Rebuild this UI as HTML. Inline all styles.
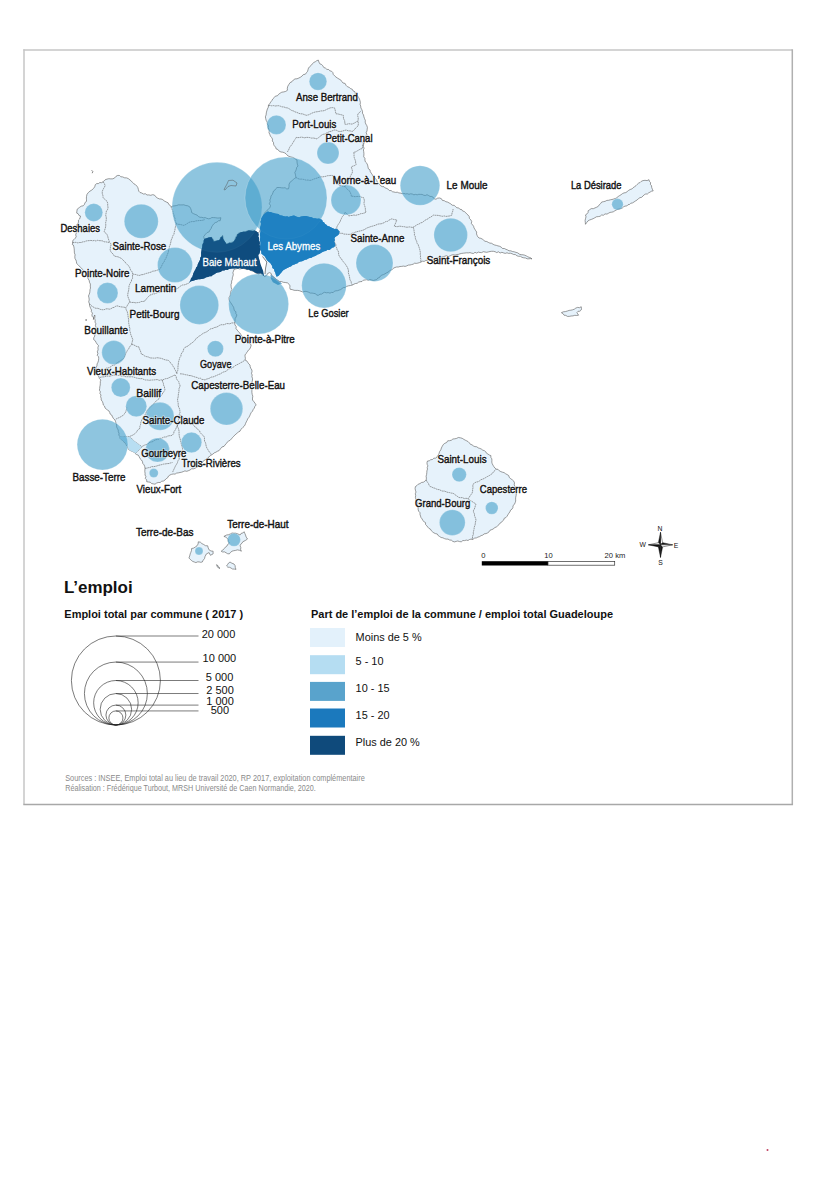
<!DOCTYPE html>
<html><head><meta charset="utf-8"><title>L'emploi</title>
<style>
html,body{margin:0;padding:0;background:#fff;width:816px;height:1200px;overflow:hidden}
svg{display:block}
text{font-family:"Liberation Sans",sans-serif}
</style></head><body>
<svg width="816" height="1200" viewBox="0 0 816 1200">
<g stroke-width="1.5" fill="none">
<line x1="23.3" y1="50" x2="792.3" y2="50" stroke="#c6c6c6"/>
<line x1="24" y1="49.3" x2="24" y2="804.4" stroke="#c6c6c6"/>
<line x1="792.3" y1="49.3" x2="792.3" y2="805.1" stroke="#b0b0b0"/>
<line x1="23.3" y1="804.4" x2="793" y2="804.4" stroke="#a8a8a8"/>
</g>

<g fill="#e6f2fb" stroke="#5a5a5a" stroke-width="0.6" stroke-linejoin="round">
<path d="M117.8,175.4 L119.6,175.5 L120.9,176.8 L122.7,176.9 L124.6,177.8 L126.7,177.9 L128.6,178.8 L130.0,180.0 L131.4,181.1 L132.6,182.5 L133.9,183.8 L135.5,184.7 L136.9,186.1 L137.9,187.7 L138.4,189.6 L138.8,191.2 L140.0,192.5 L141.8,193.0 L143.4,194.0 L145.5,193.8 L147.0,195.0 L148.8,194.9 L150.7,195.3 L152.6,194.7 L154.4,195.0 L155.7,196.7 L157.4,198.0 L159.3,198.9 L161.1,199.0 L162.8,199.7 L164.2,200.9 L166.1,201.9 L168.1,202.8 L168.7,204.4 L170.2,205.4 L171.1,206.8 L173.0,206.0 L175.0,205.8 L176.7,205.5 L178.5,204.8 L180.2,204.9 L182.0,204.9 L183.8,204.8 L185.8,205.5 L187.8,205.8 L189.7,206.8 L190.7,208.6 L191.4,210.6 L191.7,212.6 L193.4,213.6 L195.2,214.4 L197.1,215.1 L198.5,216.6 L200.1,217.3 L201.8,217.3 L203.4,217.8 L205.2,217.6 L206.8,218.3 L208.5,218.8 L210.2,218.5 L211.9,217.5 L213.6,217.6 L215.3,217.7 L217.2,218.0 L219.0,218.0 L220.9,217.7 L220.2,220.7 L218.4,220.8 L217.0,222.1 L215.3,222.6 L213.8,223.8 L212.7,225.3 L211.7,226.9 L211.1,228.6 L209.9,230.1 L209.2,231.8 L207.1,232.6 L205.5,234.2 L203.7,236.7 L204.3,239.1 L206.2,239.1 L208.0,238.2 L209.9,237.9 L211.7,237.3 L213.1,239.2 L213.5,241.6 L215.3,240.9 L217.2,241.1 L219.0,240.3 L220.2,238.6 L221.2,236.8 L222.7,235.4 L223.0,237.0 L223.3,238.7 L223.9,240.3 L225.0,242.3 L226.4,244.0 L228.2,243.3 L230.0,242.7 L231.9,242.2 L233.7,241.6 L234.7,240.3 L235.2,238.7 L235.8,237.1 L236.6,235.7 L237.4,234.2 L238.7,233.1 L240.2,232.5 L242.1,232.6 L243.5,231.8 L245.3,231.9 L246.8,231.0 L248.4,230.5 L250.5,230.4 L252.5,230.1 L254.6,230.5 L256.4,231.8 L258.2,233.0 L259.5,231.7 L260.0,230.1 L260.6,228.4 L261.3,226.9 L262.0,225.2 L261.5,223.3 L262.0,221.6 L262.8,219.9 L262.5,218.0 L263.3,216.5 L263.9,214.9 L264.4,213.3 L265.4,211.9 L266.7,210.8 L268.0,209.7 L270.0,207.3 L270.5,205.5 L269.3,203.7 L270.2,201.8 L269.8,200.0 L270.7,198.1 L271.0,196.0 L272.2,194.5 L272.9,192.8 L273.5,191.0 L274.9,190.1 L275.8,188.7 L277.0,187.5 L279.8,187.5 L281.5,187.8 L283.3,187.9 L285.1,187.7 L286.7,188.9 L288.5,188.8 L289.0,186.7 L289.0,184.5 L289.8,182.5 L291.0,181.5 L292.2,180.5 L293.4,179.4 L294.6,178.4 L296.0,177.5 L295.6,175.8 L295.3,174.1 L294.8,172.5 L295.7,170.9 L296.3,169.2 L296.7,167.4 L298.0,166.0 L297.3,164.1 L297.0,162.1 L297.0,160.0 L295.5,159.2 L294.2,158.1 L292.7,157.4 L291.0,157.0 L288.0,156.0 L286.0,153.8 L284.5,152.8 L282.8,152.2 L281.0,152.0 L279.2,151.2 L277.9,149.5 L276.0,148.8 L275.6,147.1 L274.3,145.8 L273.6,144.3 L273.5,142.5 L272.3,141.0 L272.5,139.1 L271.6,137.5 L270.4,136.1 L269.8,134.4 L269.0,132.7 L269.3,130.9 L268.7,129.2 L268.1,127.4 L268.3,125.6 L267.3,124.0 L267.2,122.1 L266.2,120.4 L265.7,118.6 L265.4,116.8 L266.1,114.9 L266.3,112.9 L266.8,110.9 L267.4,109.0 L268.3,107.2 L268.5,105.1 L269.8,103.5 L270.8,101.9 L271.9,100.5 L272.8,98.9 L274.2,97.6 L275.4,96.1 L277.4,95.8 L278.6,94.3 L280.1,93.2 L281.8,92.2 L283.8,91.9 L285.7,91.4 L287.4,90.3 L287.3,88.2 L287.8,86.2 L288.9,84.4 L290.1,82.6 L292.0,81.7 L293.3,80.0 L295.0,78.9 L297.0,78.8 L298.9,78.0 L300.6,77.1 L302.1,76.0 L303.3,74.6 L305.4,74.2 L306.5,72.6 L307.6,71.3 L308.0,69.7 L308.5,68.1 L309.5,66.8 L311.1,65.5 L312.3,63.8 L313.9,62.4 L315.4,61.7 L316.7,60.7 L318.3,60.1 L318.9,62.0 L319.8,63.8 L321.6,64.5 L322.8,65.8 L323.8,67.5 L325.6,68.2 L326.9,69.4 L328.7,69.5 L329.8,70.8 L331.5,71.2 L332.8,72.5 L333.3,74.5 L334.6,75.8 L336.0,77.1 L337.5,78.1 L339.1,79.1 L340.7,79.9 L341.8,81.5 L343.0,83.0 L345.1,83.4 L346.0,85.3 L347.4,86.7 L349.2,87.4 L350.6,88.6 L352.3,89.3 L353.3,91.1 L355.0,91.8 L355.4,93.6 L356.6,94.8 L357.7,96.2 L358.7,97.6 L359.5,99.1 L360.0,100.8 L360.4,102.6 L360.1,104.4 L360.7,106.1 L360.9,107.9 L361.8,109.6 L362.5,111.3 L362.5,113.3 L363.5,114.9 L363.9,116.8 L364.5,118.6 L365.3,120.3 L365.2,122.2 L365.8,124.0 L366.8,125.6 L367.4,127.4 L367.2,129.1 L367.0,130.9 L366.2,132.6 L366.8,134.4 L365.9,136.1 L365.8,138.0 L365.4,139.8 L364.3,141.4 L363.9,143.2 L363.5,144.9 L363.4,146.6 L364.1,148.3 L363.4,149.9 L363.7,151.6 L363.9,153.3 L363.9,155.0 L363.7,156.8 L364.9,158.3 L364.9,160.0 L365.4,161.9 L366.9,163.3 L367.6,165.1 L368.0,167.0 L368.4,168.8 L370.0,169.9 L370.3,171.8 L371.3,173.2 L372.3,174.7 L373.0,176.3 L374.5,177.4 L375.6,178.8 L376.7,180.2 L377.2,182.0 L378.5,183.2 L379.6,184.5 L380.7,185.8 L382.2,186.6 L384.0,186.7 L385.2,188.0 L386.9,188.5 L388.3,189.3 L389.4,190.6 L391.1,190.5 L392.4,191.7 L394.0,192.0 L395.6,192.4 L397.3,192.2 L398.8,192.9 L400.4,193.1 L402.1,193.7 L403.9,193.4 L405.5,193.9 L407.3,193.7 L409.0,194.3 L410.6,193.8 L412.3,194.0 L413.9,194.8 L415.5,194.4 L417.2,194.8 L418.8,194.3 L420.4,194.4 L422.1,194.4 L423.7,195.2 L425.3,195.5 L427.0,194.7 L428.6,195.5 L430.0,196.4 L431.8,196.5 L433.2,197.3 L434.3,198.9 L436.0,199.2 L437.7,198.1 L439.7,198.0 L441.4,198.7 L442.4,200.4 L444.3,200.7 L445.8,201.7 L447.6,202.1 L449.2,203.0 L450.8,203.9 L452.2,205.2 L454.2,205.4 L455.6,206.6 L456.9,207.8 L458.7,207.9 L459.9,209.3 L461.6,209.5 L462.6,211.0 L464.3,211.5 L465.6,212.6 L466.7,213.9 L468.0,215.0 L469.2,216.5 L469.4,218.4 L470.8,219.8 L471.7,221.4 L471.4,223.6 L472.7,225.0 L473.6,226.3 L474.0,227.9 L474.9,229.3 L475.7,230.7 L476.7,232.0 L476.5,233.9 L477.1,235.4 L477.8,236.8 L479.0,238.0 L480.8,238.3 L482.3,239.1 L483.7,240.2 L485.0,241.3 L486.8,241.5 L488.3,242.4 L489.9,243.1 L491.7,243.3 L493.1,244.3 L494.7,245.0 L496.4,245.4 L498.0,245.9 L499.7,246.3 L501.2,247.1 L502.5,248.5 L504.4,248.5 L505.9,249.3 L507.5,249.9 L509.0,250.8 L510.8,250.8 L512.4,251.5 L514.2,251.8 L516.0,252.4 L517.8,252.9 L519.3,254.1 L521.1,254.7 L523.0,254.8 L524.7,255.2 L526.3,255.9 L527.8,256.8 L529.4,257.4 L531.0,258.0 L532.0,259.0 L530.4,258.6 L528.8,258.8 L527.1,258.8 L525.6,258.0 L523.8,257.8 L522.0,257.4 L520.5,256.3 L518.6,256.3 L516.9,255.8 L515.4,254.6 L513.6,254.5 L512.0,253.7 L510.3,253.2 L508.6,253.4 L507.0,252.8 L505.2,253.4 L503.5,252.9 L501.9,252.3 L500.1,253.0 L498.5,251.8 L496.7,252.6 L495.1,251.7 L493.4,251.3 L491.7,251.3 L490.0,251.5 L488.4,251.9 L486.7,252.3 L485.0,252.0 L483.3,251.7 L481.7,252.6 L480.0,252.5 L478.3,252.1 L476.7,253.1 L475.0,252.3 L473.4,253.5 L471.7,253.2 L470.0,252.6 L468.3,252.9 L466.6,252.8 L465.0,253.0 L463.3,253.2 L461.7,253.4 L460.0,253.8 L458.4,254.4 L456.7,254.5 L455.1,255.1 L453.3,254.7 L451.6,255.1 L450.1,255.9 L448.4,256.5 L446.6,255.7 L444.9,256.2 L443.3,256.8 L441.7,257.1 L440.0,257.5 L438.3,257.4 L436.8,258.2 L435.3,258.6 L433.7,259.1 L432.1,259.5 L430.6,260.1 L428.8,259.7 L427.3,260.3 L425.7,260.5 L424.2,261.4 L422.5,261.2 L421.0,261.9 L419.5,262.6 L417.9,263.1 L416.3,263.4 L414.6,263.2 L413.2,264.2 L411.6,264.6 L410.0,265.0 L408.3,265.1 L406.7,265.9 L405.1,266.4 L403.3,266.1 L401.7,266.4 L400.0,266.5 L398.3,267.0 L396.6,267.0 L395.0,267.5 L393.4,268.2 L392.3,269.6 L390.7,270.2 L389.3,271.1 L388.0,272.2 L386.5,272.9 L385.0,273.8 L383.5,274.6 L381.9,275.1 L380.4,276.0 L379.4,277.6 L377.8,278.1 L376.7,279.6 L375.0,280.0 L373.3,280.5 L371.7,280.0 L370.0,279.5 L368.3,280.4 L366.7,279.7 L365.0,280.0 L363.3,280.2 L362.0,281.5 L360.2,281.7 L358.6,282.1 L357.2,283.3 L355.5,283.5 L354.0,284.1 L352.5,285.0 L350.6,285.5 L348.6,285.8 L346.7,286.4 L345.0,287.5 L343.3,287.6 L342.0,288.6 L340.6,289.6 L339.1,290.1 L337.6,290.7 L336.0,290.8 L334.4,291.2 L333.2,292.6 L331.4,292.4 L330.0,293.2 L328.2,292.6 L326.3,292.8 L324.5,292.3 L323.0,293.0 L321.7,294.1 L320.0,294.2 L318.6,295.2 L316.8,295.2 L315.5,293.7 L313.8,293.4 L312.1,293.1 L310.4,293.1 L308.8,292.3 L306.9,291.6 L305.0,291.3 L302.9,292.0 L301.0,291.3 L299.3,290.7 L297.6,290.4 L295.9,290.4 L294.1,290.3 L292.2,289.6 L290.2,289.3 L289.8,287.7 L290.0,285.9 L289.2,284.4 L287.5,282.9 L285.3,282.5 L283.3,282.3 L281.4,281.5 L279.4,281.5 L277.7,280.2 L275.9,279.1 L274.5,277.5 L273.1,276.4 L271.7,275.4 L271.2,273.5 L269.6,272.6 L267.6,273.5 L266.6,275.6 L264.7,276.6 L263.4,275.4 L261.8,274.5 L260.5,273.3 L258.6,273.8 L256.6,273.3 L255.0,272.6 L253.6,271.4 L251.9,271.0 L250.4,269.8 L248.7,269.4 L246.9,269.6 L245.4,269.1 L243.8,268.4 L241.9,268.5 L239.9,269.0 L238.0,268.4 L236.0,268.8 L234.0,269.4 L233.5,271.1 L232.9,272.7 L233.3,274.5 L232.9,276.2 L232.3,277.8 L232.3,279.5 L231.6,281.1 L231.6,282.9 L231.0,284.5 L231.1,286.2 L231.3,287.8 L232.0,289.4 L231.1,290.9 L230.5,292.5 L230.4,294.3 L230.0,295.9 L229.1,297.4 L229.0,299.2 L229.5,301.0 L230.6,302.5 L231.6,304.0 L232.6,305.6 L233.6,307.2 L234.0,309.0 L234.4,310.6 L235.9,311.7 L235.9,313.6 L236.9,314.9 L236.2,316.9 L235.1,318.7 L235.0,320.8 L234.9,322.8 L234.9,324.8 L236.2,326.6 L236.0,328.6 L237.2,330.1 L238.3,331.6 L239.8,332.9 L240.8,334.5 L241.8,335.9 L243.0,337.1 L243.9,338.6 L245.0,340.0 L246.6,340.5 L247.5,341.9 L248.8,343.0 L250.1,343.8 L251.2,345.0 L250.7,346.9 L250.0,348.8 L248.7,349.8 L247.8,351.1 L247.0,352.5 L245.9,353.6 L245.0,355.0 L245.1,356.7 L245.4,358.3 L245.0,360.0 L246.7,360.8 L247.7,362.3 L248.7,363.8 L250.0,365.0 L250.2,366.8 L250.9,368.5 L251.9,370.0 L252.0,371.7 L251.5,373.4 L252.2,375.0 L251.9,376.7 L252.5,378.3 L252.5,380.0 L252.1,381.8 L251.7,383.5 L252.5,385.4 L252.6,387.2 L251.9,388.9 L251.9,390.7 L251.9,392.5 L252.2,394.4 L252.8,396.2 L252.5,398.1 L252.5,400.0 L253.8,401.6 L255.1,403.3 L256.2,405.0 L254.9,406.3 L254.3,408.1 L253.2,409.5 L252.5,411.2 L251.2,412.6 L250.4,414.2 L249.7,415.9 L248.8,417.5 L247.7,418.9 L247.1,420.4 L246.3,421.9 L245.6,423.4 L245.0,425.0 L244.1,426.3 L242.9,427.4 L241.9,428.6 L240.6,429.7 L240.0,431.2 L238.5,432.0 L237.2,433.0 L236.0,434.1 L234.8,435.1 L233.7,436.4 L232.5,437.5 L231.4,438.9 L230.2,440.2 L228.6,441.1 L227.2,442.2 L226.2,443.7 L225.0,445.0 L224.0,446.4 L222.2,446.8 L221.3,448.1 L220.0,449.2 L219.1,450.6 L217.5,451.2 L215.9,452.2 L214.2,452.9 L212.9,454.1 L211.2,455.0 L210.1,456.1 L208.6,456.9 L207.9,458.5 L206.2,459.0 L205.0,460.0 L203.4,460.9 L202.3,462.3 L201.3,463.8 L199.8,464.8 L198.8,466.2 L197.0,466.9 L195.4,468.1 L193.6,468.8 L191.6,468.8 L190.0,470.0 L188.4,470.7 L186.8,471.3 L184.9,470.9 L183.3,471.6 L181.7,472.2 L180.0,472.5 L178.3,472.9 L176.6,473.1 L175.1,474.1 L173.3,474.0 L171.6,474.3 L170.0,475.0 L168.5,476.0 L167.7,477.7 L166.2,478.7 L165.0,480.0 L163.5,481.0 L161.6,481.3 L160.2,482.5 L158.2,482.5 L156.5,483.1 L155.0,484.2 L153.3,483.9 L151.6,483.5 L150.2,482.2 L148.4,482.0 L146.7,481.7 L146.7,479.9 L145.3,478.5 L145.9,476.6 L145.0,475.0 L145.1,473.3 L144.8,471.6 L144.9,470.0 L145.0,468.3 L144.7,466.5 L144.1,464.9 L142.8,463.5 L142.5,461.7 L141.5,460.0 L140.0,458.6 L139.2,456.7 L138.2,455.1 L136.4,454.5 L135.0,453.3 L133.8,452.0 L132.2,451.4 L130.7,450.7 L129.2,450.0 L128.1,448.5 L127.5,446.6 L126.3,445.2 L125.8,443.3 L124.1,442.4 L123.1,440.6 L121.3,439.7 L120.0,438.3 L119.9,436.6 L118.8,435.1 L119.0,433.3 L118.3,431.7 L118.2,430.0 L117.3,428.4 L116.6,426.8 L116.7,425.0 L116.0,423.4 L115.6,421.7 L115.0,420.0 L113.5,418.6 L112.5,416.9 L111.7,415.0 L110.2,414.1 L109.7,412.4 L108.9,410.9 L107.5,410.0 L106.2,409.0 L105.0,407.9 L104.5,406.1 L103.3,405.0 L103.0,403.2 L102.4,401.5 L101.2,400.0 L101.2,398.3 L100.6,396.7 L101.0,395.0 L99.9,393.5 L100.4,391.8 L99.4,390.2 L99.7,388.5 L99.8,386.8 L100.2,385.1 L100.3,383.4 L100.3,381.6 L100.9,380.0 L99.4,378.5 L98.8,376.4 L97.3,375.0 L96.9,373.2 L96.7,371.3 L96.0,369.6 L96.0,367.7 L96.9,365.9 L97.1,363.9 L98.0,362.2 L98.5,360.3 L98.7,358.5 L98.6,356.8 L97.2,355.3 L97.9,353.5 L97.3,351.8 L98.1,349.8 L97.9,347.6 L98.5,345.6 L97.2,344.2 L96.1,342.5 L95.2,340.7 L93.6,339.5 L93.8,337.7 L94.7,336.1 L94.9,334.3 L94.6,332.4 L95.8,330.9 L95.1,328.9 L96.0,327.3 L95.4,325.6 L95.9,323.8 L95.0,322.1 L95.2,320.3 L94.7,318.6 L94.9,316.8 L94.8,315.0 L93.7,317.1 L93.4,319.5 L93.6,317.8 L92.2,316.4 L91.9,314.9 L92.5,313.1 L91.3,311.7 L91.5,310.0 L90.7,308.5 L90.1,307.0 L89.5,305.5 L89.5,303.8 L88.7,301.9 L89.2,299.9 L89.0,297.9 L88.5,296.0 L89.1,294.5 L89.7,292.9 L89.9,291.3 L90.0,289.6 L90.5,288.1 L90.3,286.1 L90.4,284.1 L89.5,282.3 L89.2,280.5 L88.2,278.9 L87.5,277.3 L87.5,275.4 L86.7,273.6 L85.1,272.4 L83.7,271.1 L82.6,269.5 L81.5,268.2 L80.2,267.0 L78.9,265.8 L77.7,264.6 L76.6,263.2 L76.4,261.5 L75.9,260.0 L75.0,258.5 L74.8,256.8 L75.1,254.8 L74.4,252.9 L74.3,250.9 L74.2,248.9 L73.9,246.9 L73.3,245.0 L72.3,244.5 L72.8,242.6 L72.7,240.6 L74.1,239.5 L75.3,238.2 L76.2,236.7 L75.7,234.8 L76.4,232.7 L75.7,230.8 L75.6,228.8 L76.9,227.0 L76.7,224.9 L77.8,223.6 L78.5,222.1 L78.4,220.2 L79.6,219.0 L80.6,216.1 L79.0,215.5 L78.2,213.8 L76.7,213.1 L76.9,211.1 L77.2,209.2 L79.6,207.3 L81.2,206.2 L83.2,205.8 L84.5,204.3 L85.0,202.5 L86.5,201.4 L86.5,199.8 L86.4,198.1 L86.5,196.5 L87.0,194.3 L88.4,192.5 L90.0,191.1 L91.8,190.1 L93.3,188.6 L94.7,186.9 L95.3,184.7 L96.7,183.6 L98.4,183.6 L99.8,182.5 L101.7,182.7 L103.1,181.8 L105.1,179.8 L107.0,179.1 L108.9,178.7 L110.9,178.9 L112.9,178.8 L114.7,177.9 L116.0,176.3 Z"/>
<path d="M585.5,214.9 L587.0,213.9 L588.0,212.6 L588.2,210.7 L589.7,209.7 L591.2,208.6 L593.3,208.7 L595.0,207.9 L596.7,207.2 L598.3,206.3 L599.3,204.7 L600.7,203.5 L601.7,202.0 L603.4,201.7 L605.2,201.3 L606.8,200.4 L608.5,200.3 L610.3,199.8 L612.0,199.5 L613.7,199.0 L615.3,198.5 L616.8,197.7 L618.2,196.5 L619.6,195.6 L621.1,194.7 L622.5,193.6 L624.0,192.9 L625.8,192.6 L627.2,191.6 L628.6,190.4 L630.1,189.5 L631.9,189.0 L633.1,187.7 L634.6,186.7 L636.0,185.7 L637.2,184.4 L638.5,183.2 L640.1,182.5 L641.3,181.3 L643.0,180.6 L645.0,180.3 L647.1,180.6 L649.0,179.7 L649.4,181.3 L650.6,182.6 L650.4,184.4 L651.5,185.7 L651.7,187.5 L652.4,189.3 L653.2,190.9 L651.5,191.2 L650.1,192.1 L648.7,192.8 L647.4,194.0 L645.7,194.0 L644.2,194.8 L643.0,196.0 L641.7,197.3 L639.9,197.7 L638.4,198.7 L637.1,200.0 L635.6,200.9 L634.1,201.9 L632.6,202.9 L630.9,203.2 L629.7,204.4 L628.0,204.7 L626.8,206.0 L625.0,206.1 L623.6,206.8 L622.3,208.0 L620.8,208.6 L619.2,209.1 L617.6,209.3 L616.1,210.1 L614.7,210.9 L613.3,211.8 L611.7,212.2 L610.0,212.4 L608.6,213.2 L607.0,214.1 L605.0,213.9 L603.5,215.2 L601.6,215.0 L600.1,216.3 L598.3,216.6 L596.4,216.8 L594.8,217.8 L593.1,218.7 L591.4,219.4 L589.6,220.0 L588.0,220.9 L586.7,222.5 L585.5,224.3 L585.3,222.4 L585.1,220.5 L585.5,218.7 L586.0,216.8 Z"/>
<path d="M561.4,312.7 L563.3,311.8 L565.4,311.6 L567.4,311.0 L569.1,310.4 L570.9,310.2 L572.6,309.8 L574.3,309.2 L575.8,308.1 L577.6,307.4 L579.6,307.7 L581.2,306.7 L581.5,308.4 L581.2,310.0 L579.9,311.2 L578.0,311.3 L576.9,312.7 L578.6,315.2 L576.7,315.5 L574.8,315.3 L573.0,315.9 L571.1,316.0 L569.2,316.4 L567.4,316.4 L565.8,315.4 L564.0,315.2 L563.0,313.6 Z"/>
<path d="M458.3,437.5 L460.3,437.8 L462.2,438.3 L463.9,439.4 L465.3,440.2 L466.8,440.9 L468.2,441.7 L469.4,442.9 L470.4,444.3 L472.0,444.8 L473.4,445.9 L474.9,446.6 L476.8,446.8 L478.2,447.9 L479.8,448.4 L481.4,449.1 L482.8,450.2 L484.4,450.7 L485.7,451.7 L486.6,453.3 L488.0,454.1 L489.3,455.0 L490.9,455.6 L490.8,457.3 L491.8,458.8 L491.9,460.4 L491.8,462.1 L492.2,463.7 L493.0,465.2 L493.9,466.7 L494.9,468.0 L496.3,469.1 L498.1,469.4 L499.3,470.8 L500.8,471.6 L502.4,472.2 L504.1,472.6 L505.5,473.7 L507.0,474.5 L508.7,475.5 L509.4,477.6 L510.8,478.8 L512.4,479.9 L513.8,481.2 L514.5,482.9 L514.2,484.9 L515.1,486.6 L515.2,488.5 L515.6,490.3 L516.5,492.0 L516.3,493.8 L516.1,495.6 L515.7,497.4 L515.6,499.2 L515.7,501.1 L515.1,502.8 L514.4,504.4 L513.0,505.6 L512.9,507.6 L512.0,509.1 L510.5,510.2 L509.9,511.9 L508.8,513.3 L507.9,514.8 L507.0,516.3 L505.9,517.6 L504.2,518.3 L503.7,520.1 L502.3,521.1 L501.3,522.5 L499.8,523.3 L498.9,524.8 L497.6,525.9 L496.3,527.0 L494.6,527.6 L493.4,529.0 L491.8,529.6 L490.1,530.2 L489.0,531.9 L487.6,532.9 L486.0,533.6 L484.1,533.9 L482.8,535.1 L481.1,535.6 L479.6,536.6 L477.9,537.1 L476.4,537.9 L474.6,538.1 L473.1,539.2 L471.2,539.1 L469.5,539.5 L468.0,540.5 L466.3,540.1 L464.6,540.6 L462.9,540.5 L461.3,541.8 L459.6,541.6 L457.8,541.0 L456.2,541.4 L454.5,541.9 L452.8,541.4 L451.4,540.2 L449.6,540.0 L448.0,539.1 L446.1,539.1 L444.4,538.6 L442.9,537.8 L441.1,537.5 L439.6,536.5 L438.2,535.6 L437.3,534.0 L435.5,533.6 L433.9,532.9 L432.6,531.9 L431.3,530.7 L430.4,529.1 L428.9,528.4 L427.8,527.1 L426.8,525.8 L425.6,524.6 L425.5,522.6 L424.0,521.7 L422.8,520.5 L422.1,518.9 L421.0,517.6 L420.5,516.0 L420.0,514.5 L420.0,512.7 L418.8,511.4 L418.2,509.9 L418.1,508.2 L417.6,506.4 L416.9,504.7 L417.3,502.7 L415.9,501.1 L415.9,499.2 L415.4,497.4 L415.7,495.6 L415.3,493.8 L416.0,492.0 L415.4,490.2 L415.1,488.4 L415.4,486.6 L416.9,485.6 L418.2,484.2 L420.0,483.6 L421.4,482.5 L423.4,482.2 L424.9,481.2 L426.2,479.9 L426.4,478.1 L426.1,476.2 L426.6,474.5 L426.8,472.7 L426.9,470.9 L427.5,469.1 L427.2,467.5 L427.9,465.9 L427.1,464.2 L427.0,462.6 L427.5,461.0 L429.3,460.8 L430.7,459.7 L432.5,459.5 L433.8,458.2 L435.6,458.1 L437.0,457.0 L438.0,455.3 L439.0,453.6 L439.6,451.6 L440.8,449.9 L441.4,448.0 L442.3,446.2 L443.3,444.5 L444.8,443.3 L446.7,442.5 L447.7,440.8 L449.6,440.7 L451.4,440.2 L452.9,439.0 L454.8,438.8 L456.6,438.4 Z"/>
<path d="M188.9,558.0 L189.7,556.0 L190.2,553.9 L190.9,552.2 L191.5,550.4 L191.6,548.5 L193.6,548.1 L195.3,547.0 L197.0,545.8 L198.1,544.0 L198.3,541.8 L200.4,542.2 L201.9,543.6 L203.7,544.5 L205.5,545.7 L207.7,545.8 L208.2,547.9 L209.1,549.9 L211.0,551.0 L213.1,551.2 L213.1,553.9 L210.4,555.3 L209.1,552.6 L206.4,553.9 L205.0,556.6 L204.5,558.6 L203.2,560.2 L202.3,562.0 L200.7,562.3 L199.1,561.9 L197.5,561.9 L195.9,562.6 L194.3,562.0 L192.7,561.4 L191.4,560.4 L190.2,559.3 Z"/>
<path d="M223.9,536.4 L226.6,535.0 L228.5,534.7 L230.3,534.0 L232.0,533.0 L233.8,533.2 L235.6,533.2 L237.4,533.7 L240.1,535.0 L241.1,533.4 L242.9,533.0 L244.1,531.7 L244.8,533.3 L245.5,535.0 L246.2,537.1 L247.5,539.0 L245.5,540.4 L242.8,541.8 L242.0,543.2 L240.7,544.3 L240.1,545.8 L240.8,547.5 L240.6,549.5 L241.4,551.2 L239.5,550.3 L237.4,549.9 L235.6,550.4 L233.8,550.7 L232.0,551.2 L230.5,552.4 L229.3,553.9 L227.6,553.7 L226.1,552.8 L224.6,551.9 L222.7,552.0 L221.2,551.2 L222.8,550.1 L224.1,548.7 L225.3,547.2 L226.9,546.1 L227.8,544.3 L229.3,543.1 L228.2,541.3 L228.0,539.1 L226.8,537.9 L225.5,537.0 Z"/>
<path d="M226.6,566.0 L227.6,564.5 L228.5,563.1 L230.0,562.0 L231.9,563.2 L234.0,564.0 L235.1,565.6 L235.3,567.6 L236.0,569.4 L234.3,569.1 L232.5,569.0 L231.0,568.0 L229.5,567.3 L227.8,567.2 Z"/>
<path d="M216.5,564.7 L217.9,565.6 L218.5,567.3 L220.0,568.0 L219.0,568.5 L217.4,566.8 Z"/>
</g>
<g fill="none" stroke="#5e5e5e" stroke-width="0.6" stroke-linejoin="round" stroke-dasharray="1.8 0.5">
<path d="M103.1,181.8 L104.4,183.6 L105.1,185.7 L104.4,187.2 L103.5,188.6 L102.8,190.1 L102.2,191.6 L102.3,193.6 L102.9,195.5 L103.1,197.5 L104.3,199.0 L105.7,200.1 L107.1,201.4 L107.7,203.3 L107.7,205.3 L108.0,207.3 L107.7,209.3 L106.4,211.1 L106.1,213.1 L105.7,215.1 L106.2,217.1 L106.3,219.0 L106.1,221.0 L105.6,222.9 L105.8,224.9 L105.6,226.9 L105.1,228.8 L104.1,231.8 L105.8,233.1 L107.1,234.7 L107.8,236.6 L108.3,238.7 L109.0,240.6 L109.4,242.2 L110.6,243.4 L111.1,245.0 L110.4,246.6 L110.4,248.3 L110.1,249.9 L110.8,251.6 L111.8,253.0 L113.3,254.2 L114.0,255.8 L115.9,256.5 L118.0,256.8 L119.9,257.7 L121.8,258.7 L123.2,260.3 L124.8,261.7 L125.9,263.3 L127.2,264.6 L128.7,265.9 L129.7,267.5 L130.2,269.1 L130.9,270.6 L132.1,271.8 L132.6,273.4 L132.6,275.0 L132.5,276.7 L132.6,278.3 L131.6,279.6 L131.4,281.4 L130.4,282.7 L129.7,284.2 L129.0,286.1 L128.9,288.1 L128.7,290.1 L128.2,292.0 L127.8,294.0 L127.7,296.0 L128.4,298.0 L129.2,299.9 L129.7,301.9 L128.7,303.3 L127.7,304.8 L126.9,306.3 L125.8,307.7 L126.2,309.8 L127.2,311.6 L127.7,313.6 L128.0,315.6 L128.2,317.6 L128.7,319.5 L128.6,321.3 L128.7,323.1 L129.1,324.8 L129.3,326.7 L129.9,328.5 L129.7,330.4 L130.3,332.2 L130.6,334.1 L131.4,335.9 L132.0,337.7 L132.8,339.5 L132.4,341.1 L132.0,342.8 L131.6,344.4"/>
<path d="M72.3,242.5 L74.1,242.6 L75.9,242.3 L77.8,242.9 L79.6,242.5 L81.3,242.5 L82.9,241.8 L84.5,241.7 L86.1,241.0 L87.7,240.7 L89.4,240.6 L91.0,240.4 L92.7,240.8 L94.3,240.4 L95.9,241.0 L97.6,240.3 L99.2,240.6 L100.9,240.7 L102.5,240.9 L104.1,241.8 L105.8,241.8 L107.4,242.2 L109.0,242.5"/>
<path d="M132.6,273.4 L133.8,274.4 L135.8,274.5 L137.7,275.2 L139.7,275.4 L141.3,274.7 L143.0,274.6 L144.6,274.0 L146.2,273.4 L147.9,273.1 L149.5,272.5 L151.1,272.1 L152.7,271.2 L154.4,271.0 L156.1,270.6 L157.7,270.0 L159.3,269.5 L160.5,268.1 L161.4,266.5 L162.2,264.8 L163.0,263.1 L164.2,261.7 L164.6,260.1 L165.7,258.8 L166.3,257.3 L166.9,255.8 L167.4,254.3 L168.1,252.8 L168.5,251.2 L168.7,249.6 L169.3,248.1 L169.4,246.5 L170.1,245.0 L170.5,243.4 L170.9,241.8 L171.1,240.1 L171.9,238.7 L172.4,237.1 L173.0,235.5 L174.0,234.2 L174.2,232.2 L174.9,230.3 L175.1,228.4 L175.5,226.4 L176.0,224.4 L175.9,222.8 L175.3,221.3 L174.9,219.7 L175.0,218.1 L174.1,216.6 L174.0,215.0 L173.2,213.4 L172.9,211.7 L172.4,210.0 L171.6,208.5 L171.1,206.8"/>
<path d="M176.0,223.4 L177.9,224.3 L179.9,224.4 L181.9,224.9 L183.8,225.4 L185.5,224.6 L187.2,223.6 L188.7,222.5 L190.5,221.9 L192.2,221.5 L194.1,221.6 L195.8,220.9 L197.7,220.7 L199.5,220.5 L201.4,220.5 L203.2,220.1 L205.0,219.5"/>
<path d="M89.5,303.8 L90.9,305.4 L92.6,306.6 L94.4,307.7 L95.9,308.3 L97.6,308.3 L99.2,308.8 L100.7,309.5 L102.3,309.7 L104.1,309.7 L105.8,308.9 L107.5,308.8 L109.4,309.2 L111.1,308.7 L112.4,307.7 L114.1,307.4 L115.5,306.4 L117.0,305.8 L118.7,306.3 L120.5,306.8 L122.3,307.0 L124.1,307.2 L125.8,307.7"/>
<path d="M129.7,301.9 L131.6,302.5 L133.7,302.4 L135.6,302.8 L137.5,302.6 L139.4,302.4 L141.2,301.5 L143.2,301.5 L145.0,300.9 L146.1,299.3 L147.3,297.8 L148.7,296.4 L150.0,295.0 L151.6,294.7 L153.1,293.8 L154.8,293.8 L156.3,293.1 L157.9,292.5 L159.5,292.2 L161.1,291.7 L162.7,291.3 L164.4,291.2 L166.0,290.8 L167.5,290.0 L169.2,289.6 L170.9,290.0 L172.6,289.5 L174.3,289.6 L176.0,289.1 L177.8,288.3 L179.3,287.1 L180.8,285.9 L182.5,285.0 L184.2,284.9 L185.8,284.4 L187.3,283.7 L188.9,283.1"/>
<path d="M97.3,372.0 L98.9,371.6 L100.5,371.2 L101.8,369.9 L103.5,370.0 L105.0,369.4 L106.3,368.2 L108.0,368.0 L109.6,367.4 L111.2,366.6 L112.4,365.4 L114.3,365.1 L115.6,364.0 L117.0,362.9 L118.4,361.9 L120.0,361.1 L121.4,360.1 L122.9,359.1 L124.2,357.9 L124.7,356.3 L125.4,354.8 L125.8,353.2 L126.7,351.8 L127.5,350.2 L128.7,348.8 L129.4,347.2 L130.5,345.8 L131.6,344.4"/>
<path d="M131.6,344.4 L133.5,344.8 L135.2,345.7 L137.0,346.6 L138.9,346.9 L139.4,348.8 L140.2,350.5 L140.9,352.3 L141.4,354.2 L143.2,354.7 L144.7,356.0 L146.5,356.6 L148.4,357.0 L150.0,357.9 L151.7,358.0 L153.4,358.1 L155.1,358.2 L156.8,357.7 L158.5,357.9 L160.2,358.2 L161.8,358.5 L163.4,359.2 L165.0,359.8 L166.6,360.1 L168.3,360.3 L169.8,361.7 L170.8,363.3 L172.2,364.7 L173.2,366.5 L174.2,367.8 L174.7,369.4 L175.7,370.8 L176.3,372.3 L176.9,373.8"/>
<path d="M176.9,373.8 L176.9,372.1 L177.7,370.6 L178.0,369.0 L177.9,367.3 L178.1,365.6 L178.3,364.0 L178.5,362.3 L178.9,360.7 L179.4,359.1 L179.8,357.5 L180.9,356.3 L181.0,354.6 L181.7,353.1 L182.8,351.8 L183.4,350.4 L183.8,348.8 L185.0,347.4 L186.6,346.6 L188.4,345.9 L189.5,344.5 L191.1,343.6 L192.5,342.5 L193.9,341.4 L195.1,340.1 L196.0,338.5 L197.6,337.6 L198.8,336.2 L200.4,335.5 L201.8,334.3 L203.2,333.3 L204.9,332.6 L206.6,331.8 L208.1,330.9 L209.4,329.6 L211.0,328.7 L212.9,328.4 L214.5,327.5 L216.3,327.2 L218.0,326.4 L219.5,325.4 L221.2,324.7 L223.0,324.8 L224.7,324.5 L226.3,323.6 L228.1,323.6 L229.9,323.8 L231.5,323.0 L233.3,322.9 L235.0,322.7"/>
<path d="M100.0,377.5 L101.6,377.0 L103.3,376.9 L105.0,376.7 L106.6,376.1 L108.3,376.1 L110.1,376.2 L111.7,375.6 L113.3,375.3 L115.0,375.0 L116.6,375.4 L118.3,375.4 L120.0,375.4 L121.6,376.1 L123.4,375.8 L125.0,376.6 L126.6,376.8 L128.3,376.7 L130.0,376.9 L131.7,376.7 L133.4,377.0 L135.0,377.5 L136.7,378.1 L138.5,378.4 L140.3,378.7 L142.2,378.6 L143.9,379.5 L145.6,380.0 L147.5,380.0 L149.2,380.3 L150.8,380.1 L152.5,380.0 L154.2,379.9 L155.8,379.7 L157.5,379.6 L159.2,380.4 L160.8,379.9 L162.5,380.0 L164.0,379.3 L165.6,378.7 L167.3,378.5 L168.9,377.8 L170.4,377.0 L172.0,376.5 L173.4,375.6 L175.0,375.0"/>
<path d="M162.5,380.0 L162.6,381.8 L163.4,383.3 L163.5,385.1 L164.4,386.6 L164.6,388.3 L165.0,390.0 L164.1,391.5 L162.8,392.8 L162.1,394.5 L160.8,395.8 L159.8,397.2 L158.9,398.8 L157.5,400.0 L156.1,401.1 L154.8,402.3 L153.9,403.9 L152.4,404.9 L151.2,406.2 L150.0,407.5 L148.7,408.7 L147.5,410.0 L146.5,411.5 L146.0,413.2 L145.1,414.7 L144.1,416.2 L143.0,417.6 L142.2,419.2 L141.4,420.8 L140.8,422.5 L140.6,424.4 L139.9,426.3 L140.0,428.3 L138.6,429.2 L137.5,430.4 L136.7,432.0 L135.4,433.1 L134.2,434.2 L132.6,435.2 L130.9,435.9 L129.2,436.7 L127.4,436.4 L125.5,436.7 L123.7,436.8 L121.8,437.0 L120.0,436.7"/>
<path d="M129.2,436.7 L130.5,438.1 L132.3,439.0 L133.3,440.7 L135.0,441.7 L136.3,442.7 L137.7,443.6 L139.0,444.8 L140.5,445.5 L141.7,446.7 L140.7,448.2 L139.4,449.4 L138.3,450.8 L136.9,451.9 L135.8,453.3"/>
<path d="M115.8,419.2 L117.5,418.3 L119.2,417.6 L120.9,416.7 L122.5,415.8 L123.7,414.5 L125.0,413.3 L125.8,411.7 L126.4,409.6 L126.7,407.5"/>
<path d="M175.0,375.0 L176.2,376.5 L176.4,378.5 L177.3,380.1 L178.7,381.5 L179.1,383.4 L180.0,385.0 L179.9,386.7 L179.1,388.3 L178.9,390.0 L179.0,391.7 L178.5,393.3 L178.3,395.0 L178.2,396.7 L177.8,398.3 L177.5,400.0 L177.9,401.8 L178.2,403.6 L178.2,405.4 L178.7,407.2 L179.6,408.9 L179.8,410.7 L180.0,412.5 L179.3,414.2 L179.1,416.0 L178.8,417.8 L178.5,419.6 L178.1,421.4 L178.1,423.3 L177.5,425.0 L176.7,426.7 L176.0,428.4 L175.2,430.1 L174.0,431.6 L173.7,433.5 L172.5,435.0 L171.0,435.7 L169.3,435.7 L167.6,436.1 L166.2,437.0 L164.5,437.0 L162.9,437.5 L161.4,438.4 L159.7,438.3 L158.3,439.3 L156.6,439.6 L155.0,440.0 L153.7,441.0 L152.2,441.8 L150.5,442.1 L149.0,442.7 L147.8,444.0 L146.2,444.6 L144.6,445.1 L143.1,445.9 L141.7,446.7"/>
<path d="M180.0,415.0 L181.5,415.9 L182.9,416.8 L184.0,418.2 L185.5,419.0 L186.7,420.3 L188.3,421.0 L189.2,422.6 L190.7,423.4 L192.3,424.2 L193.8,425.1 L194.7,426.7 L196.2,427.5 L197.1,429.0 L198.5,429.9 L199.7,431.0 L200.2,432.7 L201.4,434.0 L202.7,435.0 L203.8,436.2 L204.5,437.8 L204.4,439.6 L204.6,441.3 L205.6,442.9 L205.9,444.6 L206.2,446.2 L206.8,447.9 L207.7,449.3 L208.5,450.8 L209.5,452.1 L210.6,453.4 L211.2,455.0"/>
<path d="M177.5,425.0 L177.5,426.7 L178.4,428.3 L178.8,429.9 L179.1,431.6 L179.0,433.4 L179.2,435.1 L179.4,436.7 L180.0,438.4 L180.4,440.0 L180.7,441.7 L181.2,443.3 L181.5,445.0 L182.1,446.6 L182.5,448.3 L182.5,450.0 L181.6,451.5 L181.0,453.0 L180.3,454.5 L179.8,456.2 L179.3,457.8 L179.0,459.5 L177.9,460.8 L177.5,462.5 L176.6,464.2 L175.6,465.7 L174.8,467.4 L174.0,469.1 L173.2,470.8 L172.5,472.5"/>
<path d="M145.0,468.3 L146.7,468.2 L148.3,467.7 L150.0,467.5 L151.6,466.6 L153.3,466.7 L155.0,466.4 L156.7,466.0 L158.3,465.4 L160.0,465.0 L161.8,464.6 L163.5,464.1 L165.3,463.9 L167.2,463.6 L169.0,463.5 L170.7,462.9 L172.5,462.5"/>
<path d="M180.0,373.8 L181.8,373.9 L183.6,374.2 L185.4,374.7 L187.2,374.9 L188.9,375.5 L190.8,375.6 L192.5,376.2 L194.1,376.7 L195.6,377.2 L197.2,377.5 L198.7,378.4 L200.4,378.2 L201.8,379.4 L203.5,379.5 L205.0,380.0 L206.5,379.1 L208.1,378.7 L209.7,378.1 L211.1,377.1 L212.9,377.0 L214.4,376.4 L216.0,375.7 L217.5,375.0 L219.0,374.3 L220.6,373.8 L222.0,372.7 L223.5,372.0 L225.2,371.6 L226.6,370.8 L227.9,369.5 L229.4,368.7 L231.1,368.5 L232.5,367.5 L234.0,366.8 L235.2,365.6 L236.7,364.9 L238.1,364.2 L239.6,363.4 L241.0,362.5 L242.5,361.9 L245.0,360.0"/>
<path d="M296.0,177.5 L297.8,178.5 L299.8,179.2 L301.5,179.1 L303.1,179.3 L304.7,179.7 L306.3,180.2 L308.0,180.0 L309.6,180.4 L311.3,180.2 L312.8,179.5 L314.3,178.9 L315.9,178.4 L317.5,177.9 L319.0,177.3 L320.6,176.8 L322.4,176.9 L324.1,176.6 L325.9,176.3 L327.6,175.7 L329.4,175.6 L331.1,175.4 L332.9,175.5 L333.5,177.1 L334.3,178.5 L335.6,179.6 L336.2,181.2 L337.6,182.3 L337.9,184.0 L339.0,185.3 L341.1,185.4 L343.0,186.4 L345.1,186.6 L346.2,187.9 L347.3,189.3 L348.6,190.4 L350.0,191.5 L350.5,193.1 L351.2,194.7 L351.3,196.4 L353.1,196.2 L355.0,196.7 L356.8,196.5 L358.6,196.4 L360.3,196.4 L361.8,197.4 L363.5,197.6 L364.1,199.3 L364.4,201.0 L364.0,202.8 L364.2,204.5 L364.8,206.2 L365.3,208.2 L365.4,210.3 L366.0,212.3 L364.3,213.0 L362.6,213.5 L360.8,213.6 L359.2,214.5 L357.4,214.8 L355.7,215.4 L353.9,215.0 L352.2,215.5 L350.5,215.5 L348.8,216.0 L347.8,214.6 L346.4,213.4 L345.1,212.3 L344.5,214.0 L343.5,215.5 L342.2,216.7 L341.5,218.4 L340.7,220.0 L340.0,221.8 L339.0,223.3 L338.0,224.8 L337.1,226.4 L336.6,228.2 L338.0,229.9 L339.0,231.9"/>
<path d="M363.5,140.0 L362.9,141.7 L363.3,143.5 L362.6,145.1 L362.5,146.9 L362.3,148.6 L360.4,149.0 L358.8,150.0 L357.2,150.9 L355.6,151.9 L353.7,152.3 L354.1,154.1 L354.0,156.0 L354.3,157.8 L355.0,159.6 L355.6,161.2 L355.6,162.9 L356.2,164.5 L354.7,165.5 L352.9,166.1 L351.3,167.0 L351.8,168.6 L352.3,170.2 L352.5,171.9 L351.9,173.5 L350.9,175.1 L350.3,176.7 L349.8,178.4 L349.0,180.0 L348.3,181.8 L347.4,183.5 L345.8,184.8 L345.1,186.6"/>
<path d="M339.0,233.1 L340.6,233.3 L342.3,233.3 L343.9,234.1 L345.5,234.1 L347.2,234.3 L348.8,234.4 L350.5,234.3 L351.9,233.1 L353.7,233.2 L355.1,232.2 L356.7,231.8 L358.4,231.3 L360.0,231.0 L361.6,230.6 L363.2,230.1 L364.7,229.4 L366.1,228.5 L367.6,227.7 L369.2,227.2 L370.7,226.6 L372.3,226.2 L374.0,225.7 L375.8,225.1 L377.4,224.3 L379.2,223.9 L381.1,223.8 L382.8,223.2 L384.5,222.5 L385.8,221.5 L387.6,221.3 L388.9,220.2 L390.4,219.5 L391.9,218.8 L393.5,219.4 L395.1,219.7 L396.8,220.0 L396.2,221.6 L395.6,223.1 L394.9,224.6 L394.3,226.2 L396.0,226.6 L397.6,226.6 L399.3,226.2 L401.0,226.3 L402.7,226.6 L404.3,226.7 L406.0,227.2 L407.7,227.2 L409.4,226.9 L411.0,227.2 L412.7,227.4 L414.3,226.6 L415.8,225.6 L417.3,224.6 L419.1,224.0 L420.5,222.9 L422.3,222.5 L423.7,221.3 L425.0,220.3 L426.5,219.5 L428.0,218.8 L429.2,217.7 L430.9,217.1 L432.1,216.0 L433.5,215.1 L435.3,215.3 L437.0,215.3 L438.8,215.5 L440.5,215.9 L442.3,216.3 L444.1,215.9 L445.8,216.4 L447.9,216.2 L449.9,215.9 L451.9,215.1 L452.0,213.0 L452.8,211.1 L453.1,209.0"/>
<path d="M268.3,105.7 L270.0,105.4 L271.7,105.8 L273.5,105.6 L275.2,106.0 L276.9,105.8 L278.6,105.7 L280.4,106.2 L282.0,106.9 L283.9,106.9 L285.6,107.7 L287.4,107.9 L288.9,108.6 L290.3,109.5 L291.7,110.5 L293.3,110.9 L295.0,111.9 L296.9,112.4 L298.7,113.3 L300.6,113.8 L302.7,113.9 L304.5,114.7 L306.5,115.3 L308.5,114.8 L310.3,114.0 L312.0,113.1 L313.9,112.4 L315.6,111.9 L317.4,111.7 L319.2,111.4 L320.9,110.9 L322.7,110.9 L324.7,110.5 L326.4,109.5 L328.3,108.7 L330.1,107.9 L332.3,107.6 L334.5,107.9 L335.1,109.8 L335.5,111.8 L335.9,113.8 L337.8,113.9 L339.6,114.4 L341.5,114.8 L343.3,115.3 L343.4,117.1 L343.6,118.9 L344.6,120.5 L344.8,122.3 L344.8,124.1 L346.6,124.4 L348.5,123.7 L350.3,123.9 L352.1,124.1 L353.6,123.4 L355.1,122.7 L356.4,121.7 L358.0,121.2 L358.2,119.3 L358.2,117.5 L357.6,115.7 L358.0,113.8 L359.6,112.5 L360.9,110.9"/>
<path d="M287.4,152.0 L288.2,150.6 L289.0,149.1 L289.5,147.6 L290.4,146.2 L291.7,144.9 L292.5,143.4 L293.5,141.9 L294.2,140.3 L295.5,139.0 L296.2,137.4 L297.9,137.6 L299.6,137.5 L301.3,137.1 L302.9,137.4 L304.6,137.8 L306.3,137.4 L308.0,137.4 L309.8,137.6 L311.5,138.1 L313.3,138.0 L315.1,138.4 L316.8,138.8 L318.4,137.9 L319.7,136.6 L321.2,135.4 L322.7,134.4 L324.5,134.1 L326.1,133.2 L327.7,132.5 L329.3,131.6 L331.2,131.3 L332.8,130.6 L334.5,130.0 L336.5,130.3 L338.3,131.3 L340.4,131.5 L342.4,131.1 L344.3,130.5 L346.2,130.0 L348.1,130.8 L350.2,130.9 L352.1,131.5 L353.5,130.7 L354.6,129.4 L355.6,128.1 L356.8,127.1 L358.0,126.0 L358.4,123.6 L358.0,121.2"/>
<path d="M413.0,227.2 L413.7,228.7 L414.0,230.3 L414.1,231.9 L414.6,233.4 L414.3,235.1 L415.3,236.6 L415.3,238.2 L415.9,239.8 L416.7,241.3 L416.9,243.1 L418.1,244.4 L418.6,246.1 L419.2,247.7 L419.7,249.3 L420.0,250.9 L420.4,252.6 L420.2,254.2 L420.6,255.9 L420.3,257.6 L420.9,259.2 L420.8,260.8 L420.8,262.5"/>
<path d="M334.0,240.0 L334.2,241.7 L335.1,243.2 L335.9,244.7 L335.8,246.5 L336.8,247.9 L337.1,249.6 L338.2,251.0 L338.6,252.6 L338.6,254.4 L339.2,256.0 L340.0,257.5 L341.4,258.7 L342.2,260.3 L343.3,261.7 L344.5,263.1 L345.6,264.5 L346.5,266.0 L347.5,267.5 L348.1,269.2 L348.5,271.0 L348.3,272.9 L349.0,274.6 L349.4,276.4 L349.7,278.2 L350.0,280.0 L351.1,281.5 L351.4,283.5 L352.5,285.0"/>
<path d="M426.2,479.9 L426.9,481.7 L428.4,483.1 L429.0,485.1 L430.2,486.6 L431.8,487.0 L433.2,487.9 L434.9,488.2 L436.3,489.0 L437.9,489.5 L439.6,489.7 L441.0,490.6 L442.7,491.1 L444.5,491.1 L446.2,491.8 L447.9,492.4 L449.6,492.6 L451.3,493.1 L453.1,493.3 L454.5,494.2 L455.8,495.3 L457.3,496.2 L458.5,497.4 L460.4,497.7 L462.3,497.6 L464.2,498.5 L466.1,498.3 L468.0,498.7 L469.1,497.4 L470.0,496.0 L471.0,494.6 L472.0,493.3 L472.6,491.5 L472.6,489.6 L473.0,487.7 L472.8,485.7 L473.3,483.9 L474.7,482.9 L476.2,482.0 L478.0,481.8 L479.5,480.9 L480.9,479.7 L482.5,479.2 L484.1,478.5 L485.8,477.5 L487.5,476.5 L489.3,475.6 L490.9,474.5 L492.5,473.4 L493.5,471.7 L495.0,470.5 L496.3,469.1"/>
<path d="M468.0,498.7 L469.3,499.6 L470.6,500.6 L472.0,501.4 L473.3,502.4 L474.7,503.2 L476.0,504.1 L475.3,505.8 L474.9,507.6 L474.2,509.3 L473.3,510.9 L473.7,512.5 L474.5,513.9 L474.5,515.6 L475.1,517.2 L475.7,518.7 L476.0,520.3 L475.4,522.0 L475.3,523.8 L474.9,525.5 L474.2,527.2 L474.1,528.9 L473.7,530.7 L473.3,532.4 L473.4,534.4 L472.5,536.2 L472.5,538.1 L472.0,540.0"/>
</g>
<path d="M120,436.7 L129.2,436.7 L135,441.7 L141.7,446.7 L135.8,453.3 L129.2,450 L125.8,443.3 L120,438.3 Z" fill="#b8def2" stroke="none"/>
<path d="M270.5,274.5 L274.6,277.8 L278,280.6 L282,283.5 L278,285 L272.9,282.3 L270.8,278.6 Z" fill="#4f96c4"/>
<path d="M188.9,283.1 L189.8,281.6 L190.6,280.0 L191.0,278.3 L192.3,277.0 L192.8,275.3 L193.3,273.6 L194.0,272.0 L194.8,270.4 L195.7,269.0 L196.1,267.4 L197.4,266.2 L197.7,264.5 L198.5,262.8 L199.3,261.2 L200.2,259.6 L200.1,257.9 L201.1,256.4 L201.2,254.7 L201.1,252.7 L201.5,250.8 L201.7,248.8 L202.2,247.2 L202.3,245.5 L202.6,243.9 L203.6,242.5 L203.6,240.7 L204.3,239.1 L205.7,238.6 L207.2,238.0 L208.6,237.6 L210.1,237.3 L211.7,237.3 L212.2,238.8 L213.3,240.0 L213.5,241.6 L215.3,241.2 L217.1,240.4 L219.0,240.3 L220.2,239.3 L220.5,237.6 L222.0,236.8 L222.7,235.4 L222.7,237.1 L223.1,238.8 L223.9,240.3 L225.2,242.1 L226.4,244.0 L228.0,243.8 L229.2,242.7 L230.9,243.0 L232.4,242.5 L233.7,241.6 L234.6,240.2 L235.6,238.8 L236.0,237.2 L237.1,235.9 L237.4,234.2 L238.9,233.5 L240.3,232.6 L241.9,232.1 L243.5,231.8 L245.2,231.7 L246.9,231.3 L248.4,230.5 L249.9,230.4 L251.5,230.7 L253.1,230.9 L254.6,230.5 L256.5,231.6 L258.2,233.0 L258.7,234.7 L258.2,236.5 L259.1,238.1 L258.8,239.9 L259.5,241.6 L259.9,243.2 L259.4,244.9 L260.6,246.5 L260.4,248.1 L260.5,249.8 L259.9,251.5 L259.6,253.2 L258.5,254.7 L258.5,256.4 L258.7,258.1 L259.5,259.6 L260.1,261.0 L260.3,262.6 L261.2,264.0 L261.6,265.4 L261.8,267.0 L262.4,268.5 L263.3,269.8 L263.4,271.4 L263.4,273.3 L263.8,275.0 L264.7,276.6 L263.4,275.4 L262.2,274.1 L260.5,273.3 L258.6,273.5 L256.6,273.3 L255.1,272.4 L253.6,271.4 L252.0,270.6 L250.2,270.5 L248.7,269.4 L247.0,269.5 L245.4,268.7 L243.8,268.4 L241.9,268.7 L239.9,268.1 L238.0,268.4 L236.0,268.3 L234.1,268.5 L232.1,268.4 L230.5,268.8 L228.9,269.0 L227.5,270.0 L225.7,269.7 L224.2,270.4 L222.4,270.6 L220.9,271.7 L219.2,272.3 L217.4,272.4 L215.8,273.2 L214.4,274.2 L212.8,275.1 L211.5,276.3 L209.6,276.3 L208.0,277.0 L206.2,277.3 L204.6,278.2 L203.0,278.8 L201.4,279.0 L199.7,279.2 L198.1,279.2 L196.7,279.7 L195.3,280.1 L193.9,280.6 L192.4,281.1 L190.9,281.2 Z" fill="#0f4c7e"/>
<path d="M260.2,238.1 L260.2,236.5 L259.9,234.9 L260.1,233.3 L260.5,231.8 L260.4,230.2 L259.9,228.6 L260.2,227.0 L260.8,225.3 L261.0,223.5 L260.4,221.7 L261.2,220.0 L261.3,218.2 L262.3,216.7 L263.2,215.0 L264.6,213.8 L266.1,212.5 L267.9,211.6 L269.3,212.1 L270.9,212.0 L272.3,212.7 L273.8,212.9 L275.2,213.6 L276.7,213.8 L278.5,214.1 L279.9,215.3 L281.7,215.5 L283.4,216.0 L285.2,216.5 L287.2,216.3 L288.9,217.1 L290.2,216.2 L291.9,216.1 L293.3,215.5 L294.9,215.7 L296.2,216.6 L297.7,217.1 L299.4,217.2 L301.0,216.6 L302.6,216.2 L304.3,216.0 L306.2,216.0 L308.0,216.4 L309.8,217.1 L311.7,217.2 L313.4,218.3 L315.3,218.2 L317.1,218.8 L319.0,218.6 L320.8,219.3 L322.2,220.1 L322.7,221.8 L324.2,222.6 L325.0,224.0 L326.4,224.8 L327.5,225.9 L329.4,226.5 L331.2,227.5 L333.0,228.2 L334.4,229.0 L336.0,228.7 L337.4,229.3 L338.3,230.6 L339.6,231.5 L339.1,233.2 L338.5,234.8 L336.8,235.9 L335.2,237.0 L334.4,238.4 L334.9,240.1 L334.1,241.4 L334.7,242.8 L335.2,244.2 L335.2,245.8 L333.9,247.2 L332.0,247.7 L330.8,249.1 L329.3,250.1 L327.4,249.8 L325.9,250.9 L324.2,251.3 L322.5,252.0 L320.9,253.0 L319.3,254.1 L317.5,254.6 L316.1,255.5 L314.5,256.2 L312.9,256.7 L311.5,257.7 L309.8,257.9 L308.2,258.5 L306.8,259.5 L305.1,259.7 L303.6,260.5 L302.1,261.2 L300.4,261.5 L298.8,262.1 L297.6,263.3 L295.9,263.7 L294.4,264.5 L292.6,265.1 L291.2,266.3 L289.4,266.9 L287.8,267.8 L286.3,268.4 L284.9,269.2 L283.5,270.1 L282.3,271.2 L281.2,272.7 L280.0,274.1 L278.9,275.6 L276.7,276.7 L275.9,274.9 L275.4,273.0 L274.5,271.2 L274.1,269.3 L272.4,268.1 L272.2,266.1 L271.2,264.5 L270.3,263.0 L268.9,261.9 L267.5,260.8 L266.6,259.4 L265.7,257.9 L264.9,256.5 L263.7,255.5 L262.5,254.5 L261.3,253.5 L261.4,251.9 L261.0,250.5 L260.2,249.1 L259.7,247.5 L260.1,246.0 L260.4,244.4 L260.5,242.8 L260.2,241.2 L259.8,239.7 Z" fill="#1c7fc1"/>
<g fill="rgb(60,155,200)" fill-opacity="0.58" stroke="#ffffff" stroke-opacity="0.25" stroke-width="0.8">
<circle cx="217" cy="207.3" r="45"/>
<circle cx="286" cy="198" r="41"/>
<circle cx="258.6" cy="304" r="30"/>
<circle cx="324" cy="285.6" r="22.3"/>
<circle cx="199.3" cy="305" r="19.4"/>
<circle cx="175" cy="265" r="17.5"/>
<circle cx="346" cy="200" r="15"/>
<circle cx="420" cy="185.5" r="19.8"/>
<circle cx="450.7" cy="235" r="16.8"/>
<circle cx="374.5" cy="263" r="18.5"/>
<circle cx="318" cy="81.5" r="8.8"/>
<circle cx="276.4" cy="124.9" r="9.6"/>
<circle cx="328" cy="153" r="11"/>
<circle cx="102.5" cy="444.6" r="25.4"/>
<circle cx="113.75" cy="352.5" r="12"/>
<circle cx="120.75" cy="387.5" r="9.5"/>
<circle cx="107.5" cy="293" r="10.5"/>
<circle cx="93.75" cy="212.5" r="9"/>
<circle cx="141.25" cy="221.25" r="17"/>
<circle cx="160" cy="416.25" r="14"/>
<circle cx="136.25" cy="406.25" r="10.5"/>
<circle cx="157.5" cy="450" r="12"/>
<circle cx="191.5" cy="442.5" r="10.25"/>
<circle cx="153.75" cy="473" r="4.5"/>
<circle cx="215.4" cy="348.75" r="8.1"/>
<circle cx="226.5" cy="408.75" r="16.3"/>
<circle cx="459.2" cy="474.6" r="7.2"/>
<circle cx="491.8" cy="508" r="6.3"/>
<circle cx="452.3" cy="522.6" r="12.9"/>
<circle cx="617.5" cy="204.3" r="5.7"/>
<circle cx="199" cy="551" r="4"/>
<circle cx="234" cy="539.8" r="6.5"/>
</g>
<path d="M91.6,170.2 L92.8,171.5 L92.2,173.2" fill="none" stroke="#555" stroke-width="0.7"/>
<circle cx="86.1" cy="320" r="0.7" fill="#444"/>
<path d="M188.9,283.1 L189.8,281.6 L190.6,280.0 L191.0,278.3 L192.3,277.0 L192.8,275.3 L193.3,273.6 L194.0,272.0 L194.8,270.4 L195.7,269.0 L196.1,267.4 L197.4,266.2 L197.7,264.5 L198.5,262.8 L199.3,261.2 L200.2,259.6 L200.1,257.9 L201.1,256.4 L201.2,254.7 L201.1,252.7 L201.5,250.8 L201.7,248.8 L202.2,247.2 L202.3,245.5 L202.6,243.9 L203.6,242.5 L203.6,240.7 L204.3,239.1 L205.7,238.6 L207.2,238.0 L208.6,237.6 L210.1,237.3 L211.7,237.3 L212.2,238.8 L213.3,240.0 L213.5,241.6 L215.3,241.2 L217.1,240.4 L219.0,240.3 L220.2,239.3 L220.5,237.6 L222.0,236.8 L222.7,235.4 L222.7,237.1 L223.1,238.8 L223.9,240.3 L225.2,242.1 L226.4,244.0 L228.0,243.8 L229.2,242.7 L230.9,243.0 L232.4,242.5 L233.7,241.6 L234.6,240.2 L235.6,238.8 L236.0,237.2 L237.1,235.9 L237.4,234.2 L238.9,233.5 L240.3,232.6 L241.9,232.1 L243.5,231.8 L245.2,231.7 L246.9,231.3 L248.4,230.5 L249.9,230.4 L251.5,230.7 L253.1,230.9 L254.6,230.5 L256.5,231.6 L258.2,233.0 L258.7,234.7 L258.2,236.5 L259.1,238.1 L258.8,239.9 L259.5,241.6 L259.9,243.2 L259.4,244.9 L260.6,246.5 L260.4,248.1 L260.5,249.8 L259.9,251.5 L259.6,253.2 L258.5,254.7 L258.5,256.4 L258.7,258.1 L259.5,259.6 L260.1,261.0 L260.3,262.6 L261.2,264.0 L261.6,265.4 L261.8,267.0 L262.4,268.5 L263.3,269.8 L263.4,271.4 L263.4,273.3 L263.8,275.0 L264.7,276.6 L263.4,275.4 L262.2,274.1 L260.5,273.3 L258.6,273.5 L256.6,273.3 L255.1,272.4 L253.6,271.4 L252.0,270.6 L250.2,270.5 L248.7,269.4 L247.0,269.5 L245.4,268.7 L243.8,268.4 L241.9,268.7 L239.9,268.1 L238.0,268.4 L236.0,268.3 L234.1,268.5 L232.1,268.4 L230.5,268.8 L228.9,269.0 L227.5,270.0 L225.7,269.7 L224.2,270.4 L222.4,270.6 L220.9,271.7 L219.2,272.3 L217.4,272.4 L215.8,273.2 L214.4,274.2 L212.8,275.1 L211.5,276.3 L209.6,276.3 L208.0,277.0 L206.2,277.3 L204.6,278.2 L203.0,278.8 L201.4,279.0 L199.7,279.2 L198.1,279.2 L196.7,279.7 L195.3,280.1 L193.9,280.6 L192.4,281.1 L190.9,281.2 Z" fill="#0f4c7e" fill-opacity="0.8" stroke="none"/>
<path d="M260.2,238.1 L260.2,236.5 L259.9,234.9 L260.1,233.3 L260.5,231.8 L260.4,230.2 L259.9,228.6 L260.2,227.0 L260.8,225.3 L261.0,223.5 L260.4,221.7 L261.2,220.0 L261.3,218.2 L262.3,216.7 L263.2,215.0 L264.6,213.8 L266.1,212.5 L267.9,211.6 L269.3,212.1 L270.9,212.0 L272.3,212.7 L273.8,212.9 L275.2,213.6 L276.7,213.8 L278.5,214.1 L279.9,215.3 L281.7,215.5 L283.4,216.0 L285.2,216.5 L287.2,216.3 L288.9,217.1 L290.2,216.2 L291.9,216.1 L293.3,215.5 L294.9,215.7 L296.2,216.6 L297.7,217.1 L299.4,217.2 L301.0,216.6 L302.6,216.2 L304.3,216.0 L306.2,216.0 L308.0,216.4 L309.8,217.1 L311.7,217.2 L313.4,218.3 L315.3,218.2 L317.1,218.8 L319.0,218.6 L320.8,219.3 L322.2,220.1 L322.7,221.8 L324.2,222.6 L325.0,224.0 L326.4,224.8 L327.5,225.9 L329.4,226.5 L331.2,227.5 L333.0,228.2 L334.4,229.0 L336.0,228.7 L337.4,229.3 L338.3,230.6 L339.6,231.5 L339.1,233.2 L338.5,234.8 L336.8,235.9 L335.2,237.0 L334.4,238.4 L334.9,240.1 L334.1,241.4 L334.7,242.8 L335.2,244.2 L335.2,245.8 L333.9,247.2 L332.0,247.7 L330.8,249.1 L329.3,250.1 L327.4,249.8 L325.9,250.9 L324.2,251.3 L322.5,252.0 L320.9,253.0 L319.3,254.1 L317.5,254.6 L316.1,255.5 L314.5,256.2 L312.9,256.7 L311.5,257.7 L309.8,257.9 L308.2,258.5 L306.8,259.5 L305.1,259.7 L303.6,260.5 L302.1,261.2 L300.4,261.5 L298.8,262.1 L297.6,263.3 L295.9,263.7 L294.4,264.5 L292.6,265.1 L291.2,266.3 L289.4,266.9 L287.8,267.8 L286.3,268.4 L284.9,269.2 L283.5,270.1 L282.3,271.2 L281.2,272.7 L280.0,274.1 L278.9,275.6 L276.7,276.7 L275.9,274.9 L275.4,273.0 L274.5,271.2 L274.1,269.3 L272.4,268.1 L272.2,266.1 L271.2,264.5 L270.3,263.0 L268.9,261.9 L267.5,260.8 L266.6,259.4 L265.7,257.9 L264.9,256.5 L263.7,255.5 L262.5,254.5 L261.3,253.5 L261.4,251.9 L261.0,250.5 L260.2,249.1 L259.7,247.5 L260.1,246.0 L260.4,244.4 L260.5,242.8 L260.2,241.2 L259.8,239.7 Z" fill="#1c7fc1" fill-opacity="0.85" stroke="none"/>
<path d="M258.5,254.7 L261.5,255.3 L264.5,258.5 L266.3,262.5 L265.8,268.0 L265.2,274.0 L264.7,276.6 L263.4,271.4 L260.5,264.0 L259.5,259.6 Z" fill="#fff" stroke="none"/>
<path d="M262.5,256.5 L266.8,262 L265.6,268 L265,274" fill="none" stroke="#333" stroke-width="0.6"/>
<path d="M224.0,189.5 L227.0,184.0 L228.5,180.5 L233.0,180.2 L237.0,183.0 L236.0,186.0 L231.0,185.5 L228.0,186.5 L225.0,190.0 Z" fill="none" stroke="#555" stroke-width="0.5"/>
<g font-size="11.5" stroke-linejoin="round">
<text x="296" y="100.8" textLength="61.8" lengthAdjust="spacingAndGlyphs" fill="none" stroke="#fff" stroke-opacity="0.6" stroke-width="2">Anse Bertrand</text>
<text x="296" y="100.8" textLength="61.8" lengthAdjust="spacingAndGlyphs" fill="#111" stroke="#111" stroke-width="0.42">Anse Bertrand</text>
<text x="292.2" y="127.8" textLength="44.1" lengthAdjust="spacingAndGlyphs" fill="none" stroke="#fff" stroke-opacity="0.6" stroke-width="2">Port-Louis</text>
<text x="292.2" y="127.8" textLength="44.1" lengthAdjust="spacingAndGlyphs" fill="#111" stroke="#111" stroke-width="0.42">Port-Louis</text>
<text x="325.5" y="141.5" textLength="47.0" lengthAdjust="spacingAndGlyphs" fill="none" stroke="#fff" stroke-opacity="0.6" stroke-width="2">Petit-Canal</text>
<text x="325.5" y="141.5" textLength="47.0" lengthAdjust="spacingAndGlyphs" fill="#111" stroke="#111" stroke-width="0.42">Petit-Canal</text>
<text x="332.8" y="183.8" textLength="63.5" lengthAdjust="spacingAndGlyphs" fill="none" stroke="#fff" stroke-opacity="0.6" stroke-width="2">Morne-à-L&#8217;eau</text>
<text x="332.8" y="183.8" textLength="63.5" lengthAdjust="spacingAndGlyphs" fill="#111" stroke="#111" stroke-width="0.42">Morne-à-L&#8217;eau</text>
<text x="446.6" y="188.5" textLength="40.8" lengthAdjust="spacingAndGlyphs" fill="none" stroke="#fff" stroke-opacity="0.6" stroke-width="2">Le Moule</text>
<text x="446.6" y="188.5" textLength="40.8" lengthAdjust="spacingAndGlyphs" fill="#111" stroke="#111" stroke-width="0.42">Le Moule</text>
<text x="570.9" y="189" textLength="50.6" lengthAdjust="spacingAndGlyphs" fill="none" stroke="#fff" stroke-opacity="0.6" stroke-width="2">La Désirade</text>
<text x="570.9" y="189" textLength="50.6" lengthAdjust="spacingAndGlyphs" fill="#111" stroke="#111" stroke-width="0.42">La Désirade</text>
<text x="350.5" y="242" textLength="53.9" lengthAdjust="spacingAndGlyphs" fill="none" stroke="#fff" stroke-opacity="0.6" stroke-width="2">Sainte-Anne</text>
<text x="350.5" y="242" textLength="53.9" lengthAdjust="spacingAndGlyphs" fill="#111" stroke="#111" stroke-width="0.42">Sainte-Anne</text>
<text x="426.8" y="263.5" textLength="63.5" lengthAdjust="spacingAndGlyphs" fill="none" stroke="#fff" stroke-opacity="0.6" stroke-width="2">Saint-François</text>
<text x="426.8" y="263.5" textLength="63.5" lengthAdjust="spacingAndGlyphs" fill="#111" stroke="#111" stroke-width="0.42">Saint-François</text>
<text x="267.4" y="249.7" textLength="52.9" lengthAdjust="spacingAndGlyphs" fill="#fff" stroke="#fff" stroke-width="0.3">Les Abymes</text>
<text x="202.6" y="265.8" textLength="54.0" lengthAdjust="spacingAndGlyphs" fill="#fff" stroke="#fff" stroke-width="0.3">Baie Mahaut</text>
<text x="308.3" y="316.8" textLength="40.4" lengthAdjust="spacingAndGlyphs" fill="none" stroke="#fff" stroke-opacity="0.6" stroke-width="2">Le Gosier</text>
<text x="308.3" y="316.8" textLength="40.4" lengthAdjust="spacingAndGlyphs" fill="#111" stroke="#111" stroke-width="0.42">Le Gosier</text>
<text x="234.8" y="342.8" textLength="60.0" lengthAdjust="spacingAndGlyphs" fill="none" stroke="#fff" stroke-opacity="0.6" stroke-width="2">Pointe-à-Pitre</text>
<text x="234.8" y="342.8" textLength="60.0" lengthAdjust="spacingAndGlyphs" fill="#111" stroke="#111" stroke-width="0.42">Pointe-à-Pitre</text>
<text x="60.5" y="232.3" textLength="39.5" lengthAdjust="spacingAndGlyphs" fill="none" stroke="#fff" stroke-opacity="0.6" stroke-width="2">Deshaies</text>
<text x="60.5" y="232.3" textLength="39.5" lengthAdjust="spacingAndGlyphs" fill="#111" stroke="#111" stroke-width="0.42">Deshaies</text>
<text x="112.5" y="249.8" textLength="53.8" lengthAdjust="spacingAndGlyphs" fill="none" stroke="#fff" stroke-opacity="0.6" stroke-width="2">Sainte-Rose</text>
<text x="112.5" y="249.8" textLength="53.8" lengthAdjust="spacingAndGlyphs" fill="#111" stroke="#111" stroke-width="0.42">Sainte-Rose</text>
<text x="75" y="277.2" textLength="54.5" lengthAdjust="spacingAndGlyphs" fill="none" stroke="#fff" stroke-opacity="0.6" stroke-width="2">Pointe-Noire</text>
<text x="75" y="277.2" textLength="54.5" lengthAdjust="spacingAndGlyphs" fill="#111" stroke="#111" stroke-width="0.42">Pointe-Noire</text>
<text x="135" y="292.3" textLength="41.2" lengthAdjust="spacingAndGlyphs" fill="none" stroke="#fff" stroke-opacity="0.6" stroke-width="2">Lamentin</text>
<text x="135" y="292.3" textLength="41.2" lengthAdjust="spacingAndGlyphs" fill="#111" stroke="#111" stroke-width="0.42">Lamentin</text>
<text x="129.5" y="317.5" textLength="50.0" lengthAdjust="spacingAndGlyphs" fill="none" stroke="#fff" stroke-opacity="0.6" stroke-width="2">Petit-Bourg</text>
<text x="129.5" y="317.5" textLength="50.0" lengthAdjust="spacingAndGlyphs" fill="#111" stroke="#111" stroke-width="0.42">Petit-Bourg</text>
<text x="84.25" y="333.7" textLength="43.8" lengthAdjust="spacingAndGlyphs" fill="none" stroke="#fff" stroke-opacity="0.6" stroke-width="2">Bouillante</text>
<text x="84.25" y="333.7" textLength="43.8" lengthAdjust="spacingAndGlyphs" fill="#111" stroke="#111" stroke-width="0.42">Bouillante</text>
<text x="200" y="367.8" textLength="31.5" lengthAdjust="spacingAndGlyphs" fill="none" stroke="#fff" stroke-opacity="0.6" stroke-width="2">Goyave</text>
<text x="200" y="367.8" textLength="31.5" lengthAdjust="spacingAndGlyphs" fill="#111" stroke="#111" stroke-width="0.42">Goyave</text>
<text x="87" y="374.6" textLength="69.2" lengthAdjust="spacingAndGlyphs" fill="none" stroke="#fff" stroke-opacity="0.6" stroke-width="2">Vieux-Habitants</text>
<text x="87" y="374.6" textLength="69.2" lengthAdjust="spacingAndGlyphs" fill="#111" stroke="#111" stroke-width="0.42">Vieux-Habitants</text>
<text x="191.25" y="388.6" textLength="93.8" lengthAdjust="spacingAndGlyphs" fill="none" stroke="#fff" stroke-opacity="0.6" stroke-width="2">Capesterre-Belle-Eau</text>
<text x="191.25" y="388.6" textLength="93.8" lengthAdjust="spacingAndGlyphs" fill="#111" stroke="#111" stroke-width="0.42">Capesterre-Belle-Eau</text>
<text x="136.25" y="396.8" textLength="25.0" lengthAdjust="spacingAndGlyphs" fill="none" stroke="#fff" stroke-opacity="0.6" stroke-width="2">Baillif</text>
<text x="136.25" y="396.8" textLength="25.0" lengthAdjust="spacingAndGlyphs" fill="#111" stroke="#111" stroke-width="0.42">Baillif</text>
<text x="142.5" y="423.9" textLength="62.0" lengthAdjust="spacingAndGlyphs" fill="none" stroke="#fff" stroke-opacity="0.6" stroke-width="2">Sainte-Claude</text>
<text x="142.5" y="423.9" textLength="62.0" lengthAdjust="spacingAndGlyphs" fill="#111" stroke="#111" stroke-width="0.42">Sainte-Claude</text>
<text x="141.25" y="457.3" textLength="45.0" lengthAdjust="spacingAndGlyphs" fill="none" stroke="#fff" stroke-opacity="0.6" stroke-width="2">Gourbeyre</text>
<text x="141.25" y="457.3" textLength="45.0" lengthAdjust="spacingAndGlyphs" fill="#111" stroke="#111" stroke-width="0.42">Gourbeyre</text>
<text x="181.5" y="467" textLength="59.1" lengthAdjust="spacingAndGlyphs" fill="none" stroke="#fff" stroke-opacity="0.6" stroke-width="2">Trois-Rivières</text>
<text x="181.5" y="467" textLength="59.1" lengthAdjust="spacingAndGlyphs" fill="#111" stroke="#111" stroke-width="0.42">Trois-Rivières</text>
<text x="72.5" y="481" textLength="53.0" lengthAdjust="spacingAndGlyphs" fill="none" stroke="#fff" stroke-opacity="0.6" stroke-width="2">Basse-Terre</text>
<text x="72.5" y="481" textLength="53.0" lengthAdjust="spacingAndGlyphs" fill="#111" stroke="#111" stroke-width="0.42">Basse-Terre</text>
<text x="136.5" y="492.6" textLength="44.8" lengthAdjust="spacingAndGlyphs" fill="none" stroke="#fff" stroke-opacity="0.6" stroke-width="2">Vieux-Fort</text>
<text x="136.5" y="492.6" textLength="44.8" lengthAdjust="spacingAndGlyphs" fill="#111" stroke="#111" stroke-width="0.42">Vieux-Fort</text>
<text x="227.3" y="527.5" textLength="61.2" lengthAdjust="spacingAndGlyphs" fill="none" stroke="#fff" stroke-opacity="0.6" stroke-width="2">Terre-de-Haut</text>
<text x="227.3" y="527.5" textLength="61.2" lengthAdjust="spacingAndGlyphs" fill="#111" stroke="#111" stroke-width="0.42">Terre-de-Haut</text>
<text x="136" y="535.7" textLength="57.5" lengthAdjust="spacingAndGlyphs" fill="none" stroke="#fff" stroke-opacity="0.6" stroke-width="2">Terre-de-Bas</text>
<text x="136" y="535.7" textLength="57.5" lengthAdjust="spacingAndGlyphs" fill="#111" stroke="#111" stroke-width="0.42">Terre-de-Bas</text>
<text x="437.4" y="462.5" textLength="49.2" lengthAdjust="spacingAndGlyphs" fill="none" stroke="#fff" stroke-opacity="0.6" stroke-width="2">Saint-Louis</text>
<text x="437.4" y="462.5" textLength="49.2" lengthAdjust="spacingAndGlyphs" fill="#111" stroke="#111" stroke-width="0.42">Saint-Louis</text>
<text x="479.8" y="493.3" textLength="47.2" lengthAdjust="spacingAndGlyphs" fill="none" stroke="#fff" stroke-opacity="0.6" stroke-width="2">Capesterre</text>
<text x="479.8" y="493.3" textLength="47.2" lengthAdjust="spacingAndGlyphs" fill="#111" stroke="#111" stroke-width="0.42">Capesterre</text>
<text x="415" y="507.3" textLength="55.3" lengthAdjust="spacingAndGlyphs" fill="none" stroke="#fff" stroke-opacity="0.6" stroke-width="2">Grand-Bourg</text>
<text x="415" y="507.3" textLength="55.3" lengthAdjust="spacingAndGlyphs" fill="#111" stroke="#111" stroke-width="0.42">Grand-Bourg</text>
</g>
<g>
<rect x="481.8" y="561.2" width="66.2" height="4.3" fill="#000"/>
<rect x="548" y="561.6" width="66.7" height="3.6" fill="#fff" stroke="#333" stroke-width="0.7"/>
<text x="481.3" y="557.5" font-size="7.6" fill="#222">0</text>
<text x="544.2" y="557.5" font-size="7.6" fill="#222">10</text>
<text x="604.6" y="557.5" font-size="7.6" fill="#222">20 km</text>
</g>
<g stroke="#111" stroke-width="0.45" stroke-linejoin="miter">
<path d="M660.5,532.3 L662.6,542.7 L660.5,544.8 Z" fill="#fff"/>
<path d="M660.5,532.3 L658.4,542.7 L660.5,544.8 Z" fill="#111"/>
<path d="M660.5,557.4 L662.6,546.9 L660.5,544.8 Z" fill="#111"/>
<path d="M660.5,557.4 L658.4,546.9 L660.5,544.8 Z" fill="#111"/>
<path d="M648.4,544.8 L658.4,542.7 L660.5,544.8 Z" fill="#fff"/>
<path d="M648.4,544.8 L658.4,546.9 L660.5,544.8 Z" fill="#111"/>
<path d="M672.6,544.8 L662.6,542.7 L660.5,544.8 Z" fill="#111"/>
<path d="M672.6,544.8 L662.6,546.9 L660.5,544.8 Z" fill="#fff"/>
</g>
<g font-size="6.8" fill="#111">
<text x="657.6" y="531.2">N</text>
<text x="639.6" y="547.4">W</text>
<text x="673.8" y="548.3">E</text>
<text x="658.2" y="565.4">S</text>
</g>
<text x="63.9" y="592.8" font-size="16" font-weight="bold" fill="#111" textLength="68.7" lengthAdjust="spacingAndGlyphs">L&#8217;emploi</text>
<text x="64.3" y="618.1" font-size="10" font-weight="bold" fill="#111" textLength="178.9" lengthAdjust="spacingAndGlyphs">Emploi total par commune ( 2017 )</text>
<text x="311" y="618.1" font-size="10" font-weight="bold" fill="#111" textLength="302" lengthAdjust="spacingAndGlyphs">Part de l&#8217;emploi de la commune / emploi total Guadeloupe</text>

<g fill="none" stroke="#222" stroke-width="0.6">
<circle cx="115.9" cy="680.50" r="44.50"/>
<line x1="115.9" y1="636.00" x2="198.5" y2="636.00"/>
<circle cx="115.9" cy="693.53" r="31.47"/>
<line x1="115.9" y1="662.07" x2="198.5" y2="662.07"/>
<circle cx="115.9" cy="702.75" r="22.25"/>
<line x1="115.9" y1="680.50" x2="198.5" y2="680.50"/>
<circle cx="115.9" cy="709.27" r="15.73"/>
<line x1="115.9" y1="693.53" x2="198.5" y2="693.53"/>
<circle cx="115.9" cy="715.05" r="9.95"/>
<line x1="115.9" y1="705.10" x2="198.5" y2="705.10"/>
<circle cx="115.9" cy="717.96" r="7.04"/>
<line x1="115.9" y1="710.93" x2="198.5" y2="710.93"/>
</g>
<g font-size="11" fill="#111">
<text x="201.7" y="637.8">20 000</text>
<text x="202.6" y="662.3">10 000</text>
<text x="205.8" y="680.8">5 000</text>
<text x="206.3" y="693.6">2 500</text>
<text x="206.3" y="705.2">1 000</text>
<text x="210.7" y="713.9">500</text>
</g>
<rect x="310" y="628" width="35" height="19" fill="#e3f1fb"/>
<text x="355.6" y="640.6" font-size="10.9" fill="#111">Moins de 5 %</text>
<rect x="310" y="655.2" width="35" height="19" fill="#b5ddf2"/>
<text x="355.6" y="664.7" font-size="10.9" fill="#111">5 - 10</text>
<rect x="310" y="681.9" width="35" height="19" fill="#59a3cc"/>
<text x="355.6" y="691.7" font-size="10.9" fill="#111">10 - 15</text>
<rect x="310" y="708.5" width="35" height="19" fill="#1b79bd"/>
<text x="355.6" y="718.7" font-size="10.9" fill="#111">15 - 20</text>
<rect x="310" y="735.8" width="35" height="19" fill="#0f4a7b"/>
<text x="355.6" y="745.6" font-size="10.9" fill="#111">Plus de 20 %</text>
<text x="65.2" y="781" font-size="9" fill="#8a8a8a" textLength="299.6" lengthAdjust="spacingAndGlyphs">Sources :  INSEE, Emploi total au lieu de travail 2020, RP 2017, exploitation complémentaire</text>
<text x="65.2" y="791" font-size="9" fill="#8a8a8a" textLength="250.6" lengthAdjust="spacingAndGlyphs">Réalisation : Frédérique Turbout, MRSH Université de Caen Normandie, 2020.</text>
<circle cx="767.5" cy="1150" r="1" fill="#c04060"/>

</svg></body></html>
